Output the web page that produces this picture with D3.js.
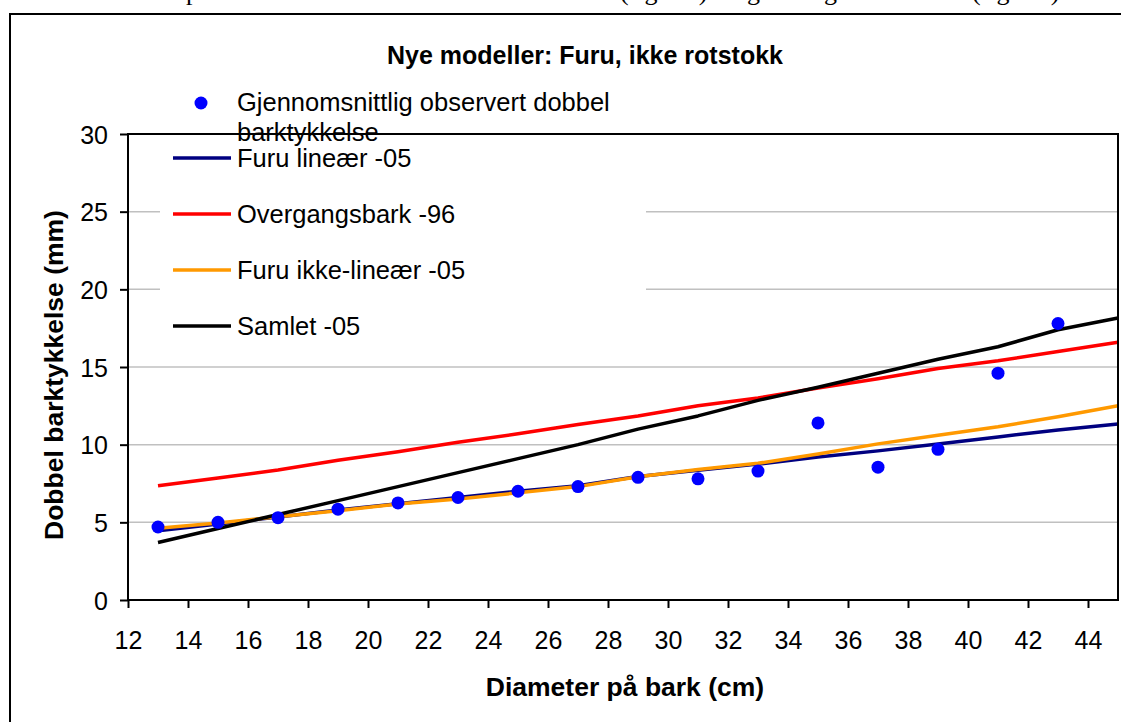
<!DOCTYPE html>
<html>
<head>
<meta charset="utf-8">
<script src="https://cdn.jsdelivr.net/npm/d3@7"></script>
<style>
	body { margin: 0; background: #fff; }
	svg { display: block; font-family: "Liberation Sans", Arial, sans-serif; }
</style>
</head>
<body>
<svg id="chart" width="1121" height="722"></svg>
<script>
// observed mean double bark thickness
var obsDiameter = [13, 15, 17, 19, 21, 23, 25, 27, 29, 31, 33, 35, 37, 39, 41, 43];
var obsBark = [4.7, 5.0, 5.3, 5.85, 6.25, 6.6, 7.0, 7.3, 7.9, 7.8, 8.3, 11.4, 8.55, 9.7, 14.6, 17.8];

// model curves, read every 2 cm
var modelDiameter = [13, 15, 17, 19, 21, 23, 25, 27, 29, 31, 33, 35, 37, 39, 41, 43, 45];
var furuLinear = [4.45, 4.9, 5.35, 5.8, 6.2, 6.6, 7.0, 7.35, 7.95, 8.35, 8.75, 9.2, 9.6, 10.05, 10.5, 10.95, 11.33];
var overgangsbark = [7.35, 7.85, 8.37, 9.0, 9.55, 10.15, 10.7, 11.3, 11.85, 12.5, 13.0, 13.65, 14.25, 14.9, 15.4, 16.0, 16.6];
var furuNonLinear = [4.62, 4.95, 5.36, 5.75, 6.18, 6.5, 6.9, 7.3, 7.94, 8.4, 8.8, 9.4, 10.05, 10.6, 11.15, 11.8, 12.5];
var samlet = [3.7, 4.6, 5.5, 6.4, 7.3, 8.2, 9.1, 10.0, 11.0, 11.85, 12.85, 13.7, 14.6, 15.5, 16.3, 17.4, 18.15];

var xTicks = [12, 14, 16, 18, 20, 22, 24, 26, 28, 30, 32, 34, 36, 38, 40, 42, 44];
var yTicks = [0, 5, 10, 15, 20, 25, 30];

var seriesNames = ["Furu lineær -05", "Overgangsbark -96", "Furu ikke-lineær -05", "Samlet -05"];
var seriesColors = ["#000080", "#ff0000", "#ff9900", "#000000"];
var seriesValues = [furuLinear, overgangsbark, furuNonLinear, samlet];

var svg = d3.select("#chart");

var plot = {left: 128, top: 134, right: 1118, bottom: 600};

var x = d3.scaleLinear().domain([12, 45]).range([plot.left, plot.right]);
var y = d3.scaleLinear().domain([0, 30]).range([plot.bottom, plot.top]);

// cut off line of document text above the chart (only descenders show)
var docText = svg.append("text")
	.attr("y", 0)
	.attr("font-family", "'Liberation Serif', 'Times New Roman', serif")
	.attr("font-size", 26)
	.attr("fill", "#000");
[[186, "på"], [620, "(figur 7)"], [734, "og"], [808, "figur"], [972, "(figur 8)"]].forEach(function (p) {
	docText.append("tspan").attr("x", p[0]).text(p[1]);
});

// outer chart frame
svg.append("path")
	.attr("d", "M10,740 L10,14 L1130,14")
	.attr("fill", "none")
	.attr("stroke", "#000")
	.attr("stroke-width", 2);

svg.append("text")
	.attr("x", 585)
	.attr("y", 64)
	.attr("text-anchor", "middle")
	.attr("font-size", 25)
	.attr("font-weight", "bold")
	.text("Nye modeller: Furu, ikke rotstokk");

// gridlines
svg.append("g")
	.selectAll("line")
	.data(yTicks.filter(function (d) { return d > 0 && d < 30; }))
	.join("line")
	.attr("x1", plot.left)
	.attr("x2", plot.right)
	.attr("y1", function (d) { return y(d); })
	.attr("y2", function (d) { return y(d); })
	.attr("stroke", "#c0c0c0")
	.attr("stroke-width", 1.5);

// axes
var yAxis = svg.append("g")
	.attr("transform", "translate(" + plot.left + ",0)")
	.call(d3.axisLeft(y).tickValues(yTicks).tickSize(8).tickSizeOuter(0).tickPadding(12));
var xAxis = svg.append("g")
	.attr("transform", "translate(0," + plot.bottom + ")")
	.call(d3.axisBottom(x).tickValues(xTicks).tickSize(8).tickSizeOuter(0));

[yAxis, xAxis].forEach(function (a) {
	a.select(".domain").remove();
	a.selectAll("line").attr("stroke", "#000").attr("stroke-width", 2);
	a.selectAll("text")
		.attr("font-family", "'Liberation Sans', Arial, sans-serif")
		.attr("font-size", 25)
		.attr("fill", "#000");
});
yAxis.selectAll("text").attr("dy", "0.36em");
xAxis.selectAll("text").attr("y", 49).attr("dy", 0);

// model lines
var line = d3.line()
	.x(function (d, i) { return x(modelDiameter[i]); })
	.y(function (d) { return y(d); });

svg.append("g")
	.selectAll("path")
	.data(seriesValues)
	.join("path")
	.attr("d", line)
	.attr("fill", "none")
	.attr("stroke", function (d, i) { return seriesColors[i]; })
	.attr("stroke-width", 3.5)
	.attr("stroke-linejoin", "round");

// observations
svg.append("g")
	.selectAll("circle")
	.data(obsBark)
	.join("circle")
	.attr("cx", function (d, i) { return x(obsDiameter[i]); })
	.attr("cy", function (d) { return y(d); })
	.attr("r", 6.5)
	.attr("fill", "#0000ff");

// legend
var legend = svg.append("g");
legend.append("rect")
	.attr("x", 160).attr("y", 84)
	.attr("width", 486).attr("height", 266)
	.attr("fill", "#fff");

legend.append("circle")
	.attr("cx", 201).attr("cy", 103)
	.attr("r", 6.5)
	.attr("fill", "#0000ff");
var obsLabel = legend.append("text")
	.attr("x", 237).attr("y", 111)
	.attr("font-size", 25.5);
obsLabel.append("tspan").attr("x", 237).text("Gjennomsnittlig observert dobbel");
obsLabel.append("tspan").attr("x", 237).attr("dy", 30).text("barktykkelse");

var legendY = [158, 214, 270, 326];
seriesNames.forEach(function (name, i) {
	legend.append("line")
		.attr("x1", 173).attr("x2", 231)
		.attr("y1", legendY[i]).attr("y2", legendY[i])
		.attr("stroke", seriesColors[i])
		.attr("stroke-width", 3.5);
	legend.append("text")
		.attr("x", 237).attr("y", legendY[i] + 9)
		.attr("font-size", 25.5)
		.text(name);
});

// plot area border
svg.append("rect")
	.attr("x", plot.left).attr("y", plot.top)
	.attr("width", plot.right - plot.left)
	.attr("height", plot.bottom - plot.top)
	.attr("fill", "none")
	.attr("stroke", "#000")
	.attr("stroke-width", 2);

// axis titles
svg.append("text")
	.attr("transform", "translate(63,375) rotate(-90)")
	.attr("text-anchor", "middle")
	.attr("font-size", 26.5)
	.attr("font-weight", "bold")
	.text("Dobbel barktykkelse (mm)");

svg.append("text")
	.attr("x", 625).attr("y", 696)
	.attr("text-anchor", "middle")
	.attr("font-size", 26.5)
	.attr("font-weight", "bold")
	.text("Diameter på bark (cm)");
</script>
</body>
</html>
